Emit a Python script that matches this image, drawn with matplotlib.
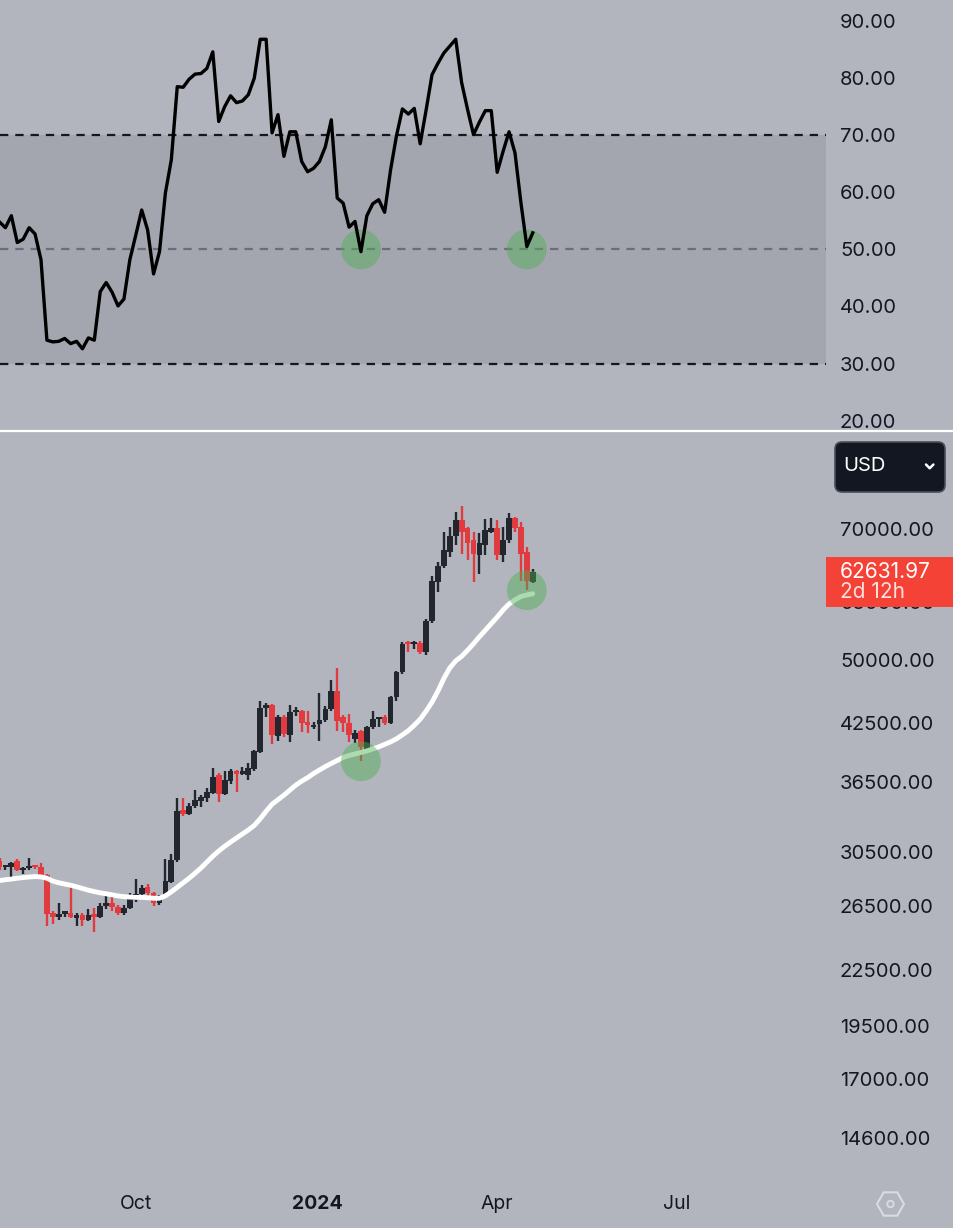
import matplotlib
matplotlib.use('Agg')
import matplotlib.pyplot as plt
import matplotlib.dates as mdates
import numpy as np
import pandas as pd
from matplotlib.patches import Rectangle, FancyBboxPatch, RegularPolygon, Circle
from matplotlib.lines import Line2D
from matplotlib.transforms import Affine2D, Bbox
from matplotlib.ticker import NullLocator

W, H = 954, 1228
DPI = 100

BG = '#b2b5be'
BAND = '#a3a6af'
INK = '#131722'
UP = '#22262f'
DOWN = '#e13b3f'
TAG = '#f44336'
GREEN = '#4caf50'

# 3-day candles
dates = pd.date_range('2023-07-24', periods=91, freq='3D')

opens = [29800, 29300, 29350, 29800, 29100, 29250, 29350, 29350, 28750, 26050,
         25800, 26000, 26050, 25750, 25950, 25600, 25900, 25800, 26500, 26750,
         26450, 26050, 26400, 26950, 27350, 27850, 27400, 26750, 27150, 28250,
         29850, 34000, 33600, 34350, 34800, 35000, 35500, 37200, 35400, 36600,
         37500, 37300, 37200, 37700, 39400, 44200, 44500, 41100, 43200, 41200,
         43700, 43850, 42600, 42000, 42400, 42800, 44000, 46100, 43200, 42500,
         40800, 41600, 39600, 42000, 42900, 43200, 42500, 45400, 48400, 52200,
         52000, 52200, 51000, 55200, 61000, 63600, 66000, 68700, 71700, 70100,
         68000, 65400, 67200, 69500, 70100, 65400, 68000, 72000, 70400, 66000,
         61000]
highs = [30000, 29500, 29700, 29900, 29300, 30000, 29450, 29600, 28800, 26200,
         26700, 26150, 28100, 26050, 26050, 26350, 26400, 26700, 27300, 27400,
         26600, 26600, 27400, 28400, 28000, 28100, 27500, 27300, 29900, 30300,
         35000, 35000, 34600, 35800, 35300, 35900, 37800, 37400, 37500, 37700,
         37600, 37900, 38300, 39600, 45000, 44700, 44600, 43400, 43400, 44500,
         44300, 43950, 43800, 42600, 45900, 44400, 47500, 49000, 43400, 43500,
         41700, 41700, 42200, 43800, 43200, 43400, 45600, 48600, 52300, 52500,
         52500, 52500, 55500, 62000, 64300, 69500, 70400, 73200, 74200, 70300,
         69500, 69300, 71900, 72000, 71700, 70400, 72900, 72200, 71300, 66900,
         63200]
lows = [29100, 29100, 28400, 29000, 28800, 29100, 29200, 28700, 25200, 25300,
        25600, 25800, 25700, 25200, 25200, 25500, 24800, 25700, 26300, 26200,
        25900, 25900, 26300, 26800, 27200, 27200, 26500, 26600, 27100, 28150,
        29700, 33400, 33500, 34100, 34200, 34700, 35400, 34700, 35300, 36300,
        35600, 37200, 36700, 37500, 39300, 43200, 40200, 40600, 41000, 40500,
        43300, 41500, 41400, 41800, 40600, 42600, 43800, 41600, 41500, 40500,
        40400, 38500, 39400, 41800, 42000, 42300, 42400, 45000, 48200, 51000,
        51400, 50800, 50600, 55000, 59500, 63300, 65200, 67200, 65700, 64600,
        61000, 62400, 65400, 69300, 64600, 64300, 67500, 69500, 61300, 59800,
        60900]
closes = [29300, 29400, 29600, 29100, 29250, 29350, 29300, 28750, 26000, 25800,
          26000, 26050, 25800, 25950, 25600, 25900, 25800, 26500, 26750, 26450,
          26050, 26400, 27000, 27350, 27800, 27400, 26750, 27150, 28300, 29850,
          33900, 33600, 34350, 34850, 35150, 35600, 37000, 35400, 36700, 37500,
          37300, 37550, 37800, 39500, 44200, 44500, 41200, 43200, 41250, 43700,
          43850, 42500, 42300, 42250, 42800, 44100, 46100, 42700, 42500, 41200,
          41400, 39900, 42000, 42900, 43100, 42450, 45400, 48400, 52000, 52000,
          52150, 51000, 55300, 61300, 63600, 66300, 68700, 71700, 69500, 67500,
          65700, 67500, 69800, 70100, 65400, 68000, 72000, 70100, 65700, 61300,
          62631.97]

ma = [28320, 28380, 28430, 28490, 28540, 28580, 28610, 28590, 28490, 28280,
      28160, 28070, 27980, 27870, 27750, 27630, 27530, 27440, 27370, 27300,
      27220, 27170, 27140, 27120, 27120, 27100, 27060, 27060, 27230, 27510,
      27830, 28160, 28490, 28860, 29250, 29700, 30150, 30560, 30930, 31270,
      31600, 31930, 32260, 32640, 33200, 33850, 34470, 34870, 35280, 35740,
      36200, 36580, 36910, 37300, 37640, 37980, 38280, 38580, 38880, 39080,
      39230, 39380, 39540, 39740, 39950, 40210, 40470, 40790, 41210, 41650,
      42240, 42900, 43800, 44840, 46130, 47650, 48960, 49850, 50440, 51230,
      52100, 53050, 53950, 54870, 55800, 56830, 57710, 58320, 58840, 59070,
      59260]

rsi = [54.8, 53.8, 55.9, 51.2, 51.8, 53.8, 52.7, 48.2, 34.1, 33.8,
       33.9, 34.4, 33.5, 33.9, 32.6, 34.5, 34.1, 42.6, 44.2, 42.5,
       40.1, 41.3, 48.2, 52.5, 56.9, 53.4, 45.7, 49.6, 59.9, 65.7,
       78.5, 78.4, 79.8, 80.7, 80.8, 81.7, 84.6, 72.4, 75.0, 76.9,
       75.7, 76.0, 77.1, 80.0, 86.8, 86.8, 70.4, 73.6, 66.3, 70.6,
       70.6, 65.4, 63.6, 64.2, 65.4, 68.0, 72.7, 59.0, 58.1, 53.9,
       54.9, 49.6, 55.9, 58.0, 58.7, 56.5, 63.9, 69.9, 74.6, 73.7,
       74.7, 68.5, 74.4, 80.6, 82.6, 84.4, 85.6, 86.8, 79.2, 74.5,
       70.1, 72.3, 74.3, 74.3, 63.5, 67.2, 70.6, 66.9, 58.2, 50.5,
       52.9]

rsi_levels = [70, 50, 30]
rsi_ticks = [90, 80, 70, 60, 50, 40, 30, 20]
price_ticks = [70000, 58000, 50000, 42500, 36500, 30500, 26500, 22500, 19500, 17000, 14600]

# highlighted touches (candle index, level)
rsi_marks = [(61, 50), (89, 50)]
price_marks = [(61, 38500), (89, 59800)]

month_ticks = ['2023-10-01', '2024-01-01', '2024-04-01', '2024-07-01']
month_labels = ['Oct', '2024', 'Apr', 'Jul']

plt.rcParams['font.family'] = ['Inter', 'DejaVu Sans']
plt.rcParams['lines.scale_dashes'] = False

fig = plt.figure(figsize=(W / DPI, H / DPI), dpi=DPI)
fig.patch.set_facecolor(BG)

# pixel coords, y from top
PX = Affine2D().scale(1.0 / DPI, -1.0 / DPI).translate(0, H / DPI) + fig.dpi_scale_trans


def px_axes(x0, y0, x1, y1):
    ax = fig.add_axes([x0 / W, 1 - y1 / H, (x1 - x0) / W, (y1 - y0) / H])
    ax.set_facecolor(BG)
    for s in ax.spines.values():
        s.set_visible(False)
    return ax


x = mdates.date2num(dates)
xl = x[0] + 0.25
xr = xl + 826 / 1.975

ax_rsi = px_axes(0, 0, 826, 430)
ax_px = px_axes(0, 432, 826, 1178)

# ---- RSI pane
ax_rsi.axhspan(30, 70, color=BAND, lw=0, zorder=0)
for lv in rsi_levels:
    col = '#6b6e78' if lv == 50 else INK
    ax_rsi.axhline(lv, color=col, lw=1.6, dashes=(6, 5), zorder=1)
ax_rsi.scatter([x[i] for i, _ in rsi_marks], [v for _, v in rsi_marks], s=820,
               color=GREEN, alpha=0.45, edgecolors='none', zorder=2)
ax_rsi.plot(x, rsi, color='black', lw=2.4, zorder=3)
ax_rsi.set_ylim(18.37, 93.68)
ax_rsi.set_yticks(rsi_ticks)
ax_rsi.set_yticklabels([f'{v:.2f}' for v in rsi_ticks])
ax_rsi.set_xticks([])

# ---- price pane
o = np.array(opens)
c = np.array(closes)
up = c >= o
cols = [UP if u else DOWN for u in up]
ax_px.vlines(x, lows, highs, colors=cols, lw=1.7, zorder=2)
bottom = np.minimum(o, c)
height = np.maximum(np.abs(c - o), bottom * 0.006)
ax_px.bar(x, height, bottom=bottom, width=2.9, color=cols, lw=0, zorder=2)
ax_px.plot(x, ma, color='white', lw=3.5, solid_capstyle='round', zorder=3)
ax_px.scatter([x[i] for i, _ in price_marks], [v for _, v in price_marks], s=820,
              color=GREEN, alpha=0.45, edgecolors='none', zorder=4)
ax_px.set_yscale('log')
ax_px.set_ylim(13171, 89850)
ax_px.yaxis.set_minor_locator(NullLocator())
ax_px.set_yticks(price_ticks)
ax_px.set_yticklabels([f'{v:.2f}' for v in price_ticks])
ax_px.set_xticks(mdates.date2num(pd.to_datetime(month_ticks)))
ax_px.set_xticklabels(month_labels)
ax_px.get_xticklabels()[1].set_fontweight('bold')

for ax in (ax_rsi, ax_px):
    ax.set_xlim(xl, xr)
    ax.yaxis.tick_right()
    ax.tick_params(axis='y', length=0, pad=10, labelsize=14.5, labelcolor=INK)
    ax.tick_params(axis='x', length=0, pad=12, labelsize=14, labelcolor=INK)

# pane separator
fig.add_artist(Line2D([0, W], [431, 431], transform=PX, color='white', lw=1.6))

# last price tag, covering the axis label behind it
yd = ax_px.transData.transform((x[-1], closes[-1]))[1]
ytag = H - yd
tag_bottom = ytag + 35
fig.add_artist(Rectangle((826, ytag - 15), 128, 50, transform=PX, color=TAG, lw=0, zorder=5))
fig.text(840, ytag, f'{closes[-1]:.2f}', transform=PX, color='white', fontsize=15,
         va='center', ha='left', zorder=6)
fig.text(840, ytag + 20, '2d 12h', transform=PX, color='#fde0de', fontsize=15,
         va='center', ha='left', zorder=6)

# only the strip of the hidden axis label below the tag shows
hidden = [t for t in ax_px.yaxis.get_major_ticks() if t.label2.get_text() == '58000.00']
for t in hidden:
    t.label2.set_clip_box(Bbox([[826, 0], [W, H - tag_bottom]]))
    t.label2.set_clip_on(True)

# currency selector
fig.add_artist(FancyBboxPatch((835, 442), 110, 50, boxstyle='round,pad=0,rounding_size=7',
                              transform=PX, facecolor='#131722', edgecolor='#4a4e59', lw=1.2))
fig.text(843, 466, 'USD', transform=PX, color='white', fontsize=14.5, va='center', ha='left')
fig.add_artist(Line2D([926, 929.7, 933.4], [464.5, 468.3, 464.5], transform=PX,
                      color='white', lw=1.8, solid_capstyle='round', solid_joinstyle='round'))

# settings icon
fig.add_artist(RegularPolygon((890.5, 1204), numVertices=6, radius=13.5, orientation=np.pi / 6,
                              transform=PX, fill=False, edgecolor='#d9dbe1', lw=1.5))
fig.add_artist(Circle((890.5, 1204), 3.2, transform=PX, fill=False, edgecolor='#d9dbe1', lw=1.4))

fig.savefig('out.png', dpi=DPI, facecolor=BG)
